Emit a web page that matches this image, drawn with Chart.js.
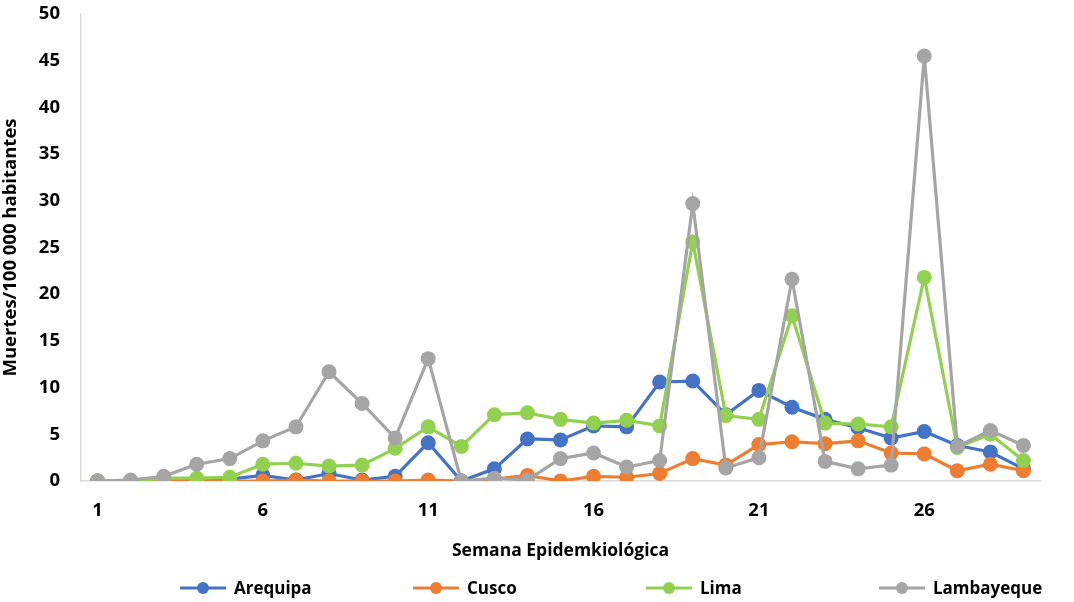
<!DOCTYPE html>
<html>
<head>
<meta charset="utf-8">
<script src="https://cdn.jsdelivr.net/npm/chart.js@4/dist/chart.umd.min.js"></script>
<style>
  html, body { margin: 0; padding: 0; background: #fff; }
  #wrap { position: relative; width: 1074px; height: 602px; }
  #legend { position: absolute; left: 180px; top: 576px; display: flex; font-family: "Open Sans", sans-serif; font-weight: bold; font-size: 17px; color: #000; }
  .item { width: 233px; display: flex; align-items: center; }
  .item svg { margin-right: 8px; }
</style>
</head>
<body>
<div id="wrap">
  <canvas id="chart" width="1074" height="602"></canvas>
  <div id="legend"></div>
</div>
<script>
const weeks = [1,2,3,4,5,6,7,8,9,10,11,12,13,14,15,16,17,18,19,20,21,22,23,24,25,26,27,28,29];
const arequipa = [0,0,0.2,0.2,0.2,0.6,0.1,0.8,0.1,0.5,4.1,0,1.3,4.5,4.4,5.9,5.8,10.6,10.7,7.1,9.7,7.9,6.6,5.7,4.6,5.3,3.8,3.1,1.3];
const cusco = [0,0,0,0.1,0,0,0.1,0,0,0,0.1,0,0.2,0.6,0,0.5,0.4,0.8,2.4,1.7,3.9,4.2,4.0,4.3,3.0,2.9,1.1,1.8,1.1];
const lima = [0,0,0.3,0.3,0.4,1.8,1.9,1.6,1.7,3.5,5.8,3.7,7.1,7.3,6.6,6.2,6.5,5.9,25.6,7.0,6.6,17.7,6.2,6.1,5.8,21.8,3.6,5.0,2.2];
const lambayeque = [0,0.1,0.5,1.8,2.4,4.3,5.8,11.7,8.3,4.6,13.1,0,0.3,0.1,2.4,3.0,1.5,2.2,29.7,1.4,2.5,21.6,2.1,1.3,1.7,45.5,3.7,5.4,3.8];

const names = ["Arequipa", "Cusco", "Lima", "Lambayeque"];
const colors = ["#4472C4", "#ED7D31", "#92D050", "#A5A5A5"];
const series = [arequipa, cusco, lima, lambayeque];

const font = "'Open Sans', sans-serif";

const datasets = series.map((s, i) => ({
  label: names[i],
  data: s,
  borderColor: colors[i],
  backgroundColor: colors[i],
  borderWidth: 3.2,
  pointRadius: 7.5,
  pointHoverRadius: 7.5,
  pointBorderWidth: 0,
  tension: 0,
  order: 3 - i,
}));

new Chart(document.getElementById("chart"), {
  type: "line",
  data: { labels: weeks, datasets: datasets },
  options: {
    responsive: false,
    animation: false,
    layout: { autoPadding: false, padding: { top: 14, right: 34, bottom: 30, left: 0 } },
    plugins: { legend: { display: false }, tooltip: { enabled: false } },
    scales: {
      x: {
        offset: true,
        grid: { display: false, drawTicks: false, tickLength: 0 },
        border: { display: true, color: "#D9D9D9", width: 1.5 },
        ticks: {
          autoSkip: false,
          maxRotation: 0,
          padding: 19,
          color: "#000",
          font: { family: font, size: 18.5, weight: "bold" },
          callback: (v, i) => (i % 5 === 0 ? weeks[i] : ""),
        },
        title: {
          display: true,
          text: "Semana Epidemkiológica",
          color: "#000",
          font: { family: font, size: 17.5, weight: "bold" },
          padding: { top: 4, bottom: 10 },
        },
        afterFit: (s) => { s.height = 91; },
      },
      y: {
        min: 0,
        max: 50,
        grid: { display: true, drawOnChartArea: false, drawTicks: true, tickLength: 21, color: "rgba(0,0,0,0)" },
        border: { display: true, color: "#D9D9D9", width: 1.5 },
        ticks: {
          stepSize: 5,
          padding: 0,
          color: "#000",
          font: { family: font, size: 18.5, weight: "bold" },
        },
        title: {
          display: true,
          text: "Muertes/100 000 habitantes",
          color: "#000",
          font: { family: font, size: 18.5, weight: "bold" },
          padding: { top: 0, bottom: 0 },
        },
        afterFit: (s) => { s.width = 81; },
      },
    },
  },
});

const legend = document.getElementById("legend");
names.forEach((n, i) => {
  const item = document.createElement("div");
  item.className = "item";
  item.innerHTML =
    '<svg width="46" height="16"><line x1="0" y1="8" x2="46" y2="8" stroke="' + colors[i] +
    '" stroke-width="3"/><circle cx="23" cy="8" r="6" fill="' + colors[i] + '"/></svg><span>' + n + "</span>";
  legend.appendChild(item);
});
</script>
</body>
</html>
